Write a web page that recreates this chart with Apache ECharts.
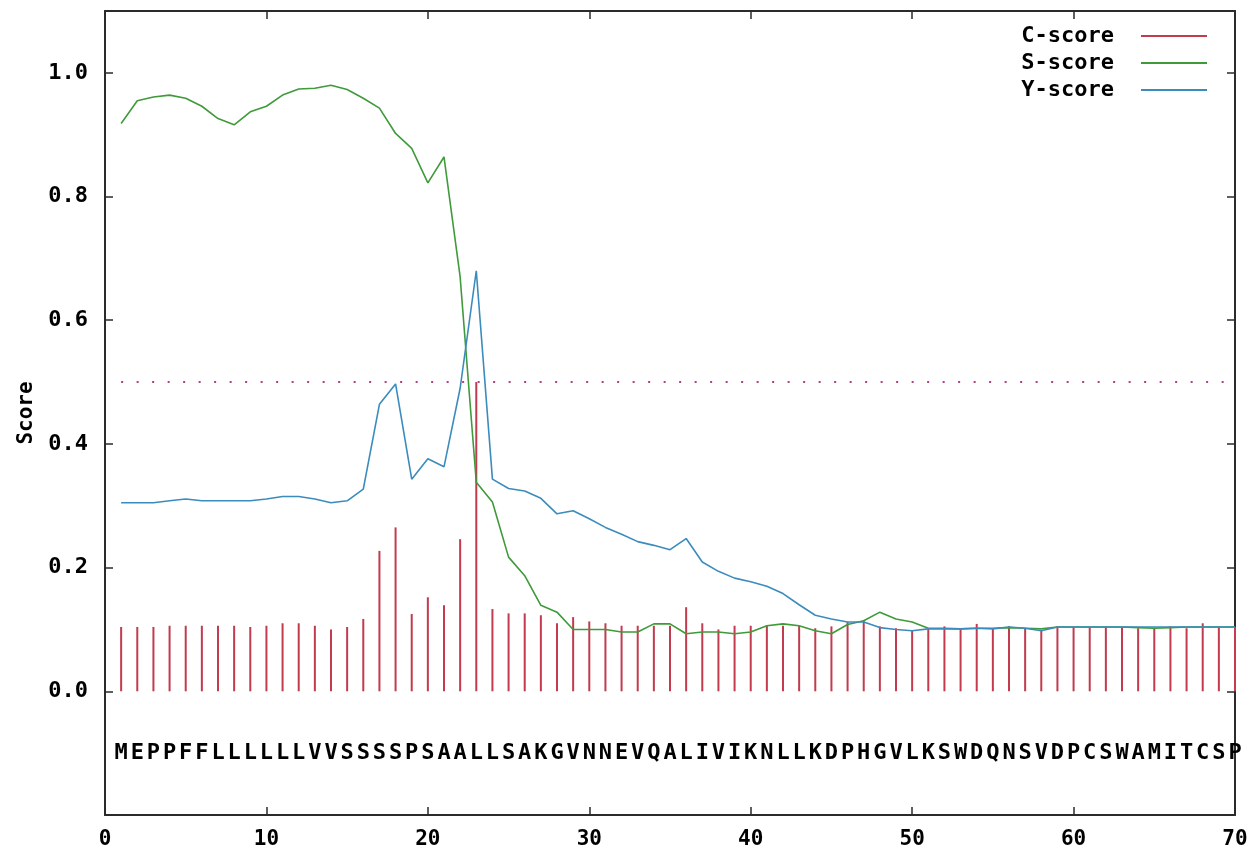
<!DOCTYPE html>
<html>
<head>
<meta charset="utf-8">
<script src="https://cdn.jsdelivr.net/npm/echarts@6/dist/echarts.min.js"></script>
<style>
html,body{margin:0;padding:0;background:#fff;}
#chart{width:1257px;height:852px;}
</style>
</head>
<body>
<div id="chart"></div>
<script>
// ---- data ----
const positions = Array.from({length: 70}, (_, i) => i + 1);
const sequence = "MEPPFFLLLLLLVVSSSSPSAALLSAKGVNNEVQALIVIKNLLKDPHGVLKSWDQNSVDPCSWAMITCSP".split("");
const cScore = [
  0.104,0.104,0.104,0.106,0.106,0.106,0.106,0.106,0.104,0.106,
  0.110,0.110,0.106,0.100,0.104,0.117,0.227,0.265,0.125,0.152,
  0.139,0.246,0.500,0.133,0.126,0.126,0.123,0.110,0.120,0.113,
  0.110,0.106,0.106,0.106,0.106,0.136,0.110,0.100,0.106,0.106,
  0.106,0.106,0.106,0.102,0.105,0.112,0.115,0.105,0.102,0.098,
  0.102,0.105,0.101,0.109,0.102,0.105,0.102,0.098,0.105,0.104,
  0.104,0.104,0.104,0.102,0.101,0.105,0.102,0.110,0.104,0.104
];
const sScore = [
  0.918,0.955,0.961,0.964,0.959,0.946,0.926,0.916,0.937,0.946,
  0.964,0.974,0.975,0.980,0.973,0.959,0.943,0.902,0.878,0.822,
  0.864,0.670,0.338,0.306,0.217,0.187,0.139,0.128,0.100,0.100,
  0.100,0.096,0.096,0.109,0.109,0.093,0.096,0.096,0.093,0.096,
  0.106,0.109,0.106,0.098,0.093,0.108,0.114,0.128,0.117,0.112,
  0.102,0.102,0.101,0.102,0.102,0.103,0.102,0.101,0.104,0.104,
  0.104,0.104,0.104,0.103,0.102,0.103,0.104,0.104,0.104,0.104
];
const yScore = [
  0.305,0.305,0.305,0.308,0.311,0.308,0.308,0.308,0.308,0.311,
  0.315,0.315,0.311,0.305,0.308,0.327,0.464,0.497,0.343,0.376,
  0.363,0.490,0.680,0.343,0.328,0.324,0.312,0.287,0.292,0.279,
  0.265,0.254,0.242,0.236,0.229,0.247,0.209,0.194,0.183,0.177,
  0.170,0.158,0.140,0.123,0.117,0.112,0.112,0.103,0.100,0.098,
  0.101,0.101,0.101,0.102,0.101,0.104,0.102,0.098,0.104,0.104,
  0.104,0.104,0.104,0.104,0.104,0.104,0.104,0.104,0.104,0.104
];
const threshold = 0.5;
const yTickLabels = ["0.0","0.2","0.4","0.6","0.8","1.0"];
const xTickLabels = ["0","10","20","30","40","50","60","70"];
const seriesNames = ["C-score","S-score","Y-score"];

// ---- chart ----
const FONT = "DejaVu Sans Mono";
const axisColor = "#2b2b2b";
const chart = echarts.init(document.getElementById('chart'), null, {renderer: 'canvas'});

function yFmt(v) {
  const s = v.toFixed(1);
  return yTickLabels.indexOf(s) >= 0 && Math.abs(v - parseFloat(s)) < 1e-6 ? s : '';
}
function xFmt(v) {
  const s = String(Math.round(v));
  return xTickLabels.indexOf(s) >= 0 ? s : '';
}

const baseX = {
  type: 'value', min: 0, max: 70, interval: 10,
  axisLine: {show: true, onZero: false, lineStyle: {color: axisColor, width: 2}},
  axisTick: {show: true, inside: true, length: 8, lineStyle: {color: axisColor, width: 1.5}},
  splitLine: {show: false}
};
const baseY = {
  type: 'value', min: -0.2, max: 1.1, interval: 0.2,
  axisLine: {show: true, onZero: false, lineStyle: {color: axisColor, width: 2}},
  axisTick: {show: true, inside: true, length: 8, lineStyle: {color: axisColor, width: 1.5}},
  splitLine: {show: false}
};

chart.setOption({
  animation: false,
  backgroundColor: '#ffffff',
  grid: {left: 105, right: 22, top: 11, bottom: 37, containLabel: false},
  xAxis: [
    Object.assign({}, baseX, {position: 'bottom',
      axisLabel: {show: true, margin: 14, formatter: xFmt, color: '#000',
        fontFamily: FONT, fontWeight: 'bold', fontSize: 21}}),
    Object.assign({}, baseX, {position: 'top', axisLabel: {show: false}})
  ],
  yAxis: [
    Object.assign({}, baseY, {position: 'left',
      name: 'Score', nameLocation: 'middle', nameGap: 68, nameRotate: 90,
      nameTextStyle: {color: '#000', fontFamily: FONT, fontWeight: 'bold', fontSize: 21},
      axisLabel: {show: true, margin: 17, formatter: yFmt, color: '#000',
        fontFamily: FONT, fontWeight: 'bold', fontSize: 22}}),
    Object.assign({}, baseY, {position: 'right', axisLabel: {show: false}})
  ],
  legend: {
    data: seriesNames,
    orient: 'vertical', align: 'right',
    right: 45, top: 20,
    icon: 'rect', itemWidth: 66, itemHeight: 2, itemGap: 5,
    textStyle: {color: '#000', fontFamily: FONT, fontWeight: 'bold', fontSize: 22, padding: [0, 22, 0, 0]},
    selectedMode: false
  },
  series: [
    {
      name: 'C-score', type: 'bar', barWidth: 2, barGap: '-100%',
      itemStyle: {color: '#c23b4e'},
      data: positions.map((p, i) => [p, cScore[i]]),
      silent: true, z: 2
    },
    {
      name: 'S-score', type: 'line', symbol: 'none',
      lineStyle: {color: '#3f9a3a', width: 1.6}, itemStyle: {color: '#3f9a3a'},
      data: positions.map((p, i) => [p, sScore[i]]),
      silent: true, z: 3
    },
    {
      name: 'Y-score', type: 'line', symbol: 'none',
      lineStyle: {color: '#3b8cbd', width: 1.6}, itemStyle: {color: '#3b8cbd'},
      data: positions.map((p, i) => [p, yScore[i]]),
      silent: true, z: 4
    },
    {
      name: 'threshold', type: 'line', symbol: 'none',
      lineStyle: {color: '#b04080', width: 2, type: [2, 13.5]},
      data: [[positions[0], threshold], [positions[positions.length - 1], threshold]],
      silent: true, z: 1
    },
    {
      name: 'sequence', type: 'scatter', symbolSize: 0,
      itemStyle: {color: '#000', opacity: 1},
      data: positions.map((p, i) => [p, -0.1, sequence[i]]),
      label: {show: true, position: 'inside', formatter: (d) => d.value[2],
        color: '#000', opacity: 1, textBorderWidth: 0, textBorderColor: 'transparent',
        fontFamily: FONT, fontWeight: 'bold', fontSize: 22},
      silent: true, z: 5
    }
  ]
});
</script>
</body>
</html>
